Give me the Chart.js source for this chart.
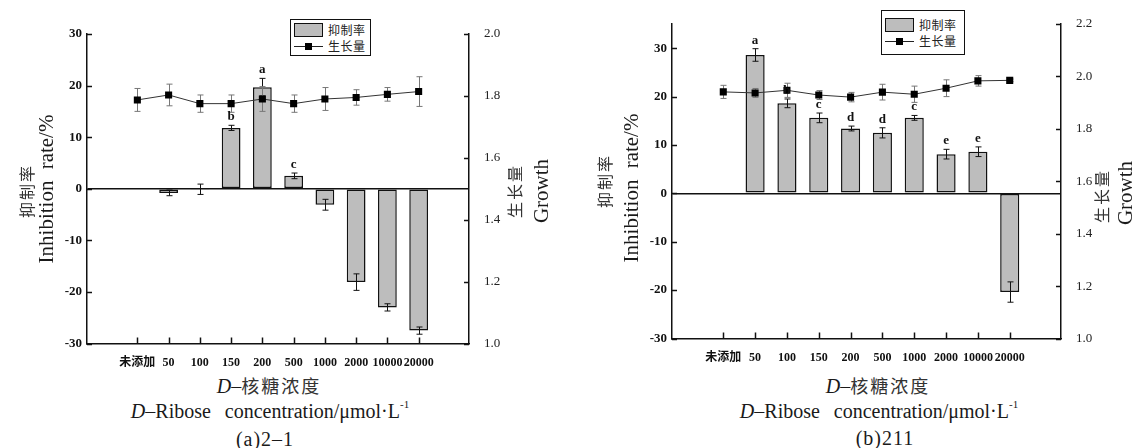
<!DOCTYPE html>
<html lang="zh">
<head>
<meta charset="UTF-8" />
<title>D-核糖浓度对抑制率和生长量的影响</title>
<script src="https://cdn.jsdelivr.net/npm/chart.js"></script>
<style>
  body { margin: 0; background: #fff; color: #1a1a1a; }
  .panel { position: absolute; top: 0; width: 569px; height: 448px; overflow: hidden;
    font-family: "Liberation Serif", "Noto Sans CJK SC", serif; }
  .panel canvas { position: absolute; left: 0; top: 0; }
  .ytitle { position: absolute; white-space: nowrap; line-height: 1;
    transform: translate(-50%, -50%) rotate(-90deg); }
  .cjk { font-family: "Noto Sans CJK SC", sans-serif; font-size: 16px; letter-spacing: 2px; color: #333; }
  .latin { font-size: 21px; word-spacing: 6px; }
  .xtitle { position: absolute; white-space: nowrap; line-height: 1; transform: translate(-50%, -50%); font-size: 20px; }
  .xtitle.en { word-spacing: 9px; }
  .xtitle.tag { letter-spacing: 1px; }
  .xtitle .zh { font-family: "Noto Sans CJK SC", sans-serif; font-size: 18px; letter-spacing: 2px; color: #333; }
  .xtitle sup { font-size: 11px; position: relative; top: -2px; vertical-align: top; }
  .legend { position: absolute; box-sizing: border-box; border: 1.5px solid #111; background: #fff;
    display: flex; flex-direction: column; justify-content: center; padding-left: 3px;
    font-family: "Noto Sans CJK SC", sans-serif; font-size: 12px; letter-spacing: 0.5px; color: #222; }
  .legend .item { display: flex; align-items: center; height: 16px; }
  .legend .key { position: relative; width: 29px; height: 14px; margin-right: 5px; box-sizing: border-box; }
  .legend .key.bar { border: 1.5px solid #111; }
  .legend .key.line::before { content: ""; position: absolute; left: 0; right: 0; top: 7px; border-top: 1px solid #222; }
  .legend .key.line i { position: absolute; left: 11px; top: 4px; width: 7px; height: 7px; background: #000; }
</style>
</head>
<body>
<div class="panel" style="left:0">
  <canvas id="chartA" width="569" height="370"></canvas>
  <div class="legend" id="legendA" style="left:290px;top:19px;width:81px;height:37px"></div>
  <div class="ytitle cjk" style="left:26px;top:191px">抑制率</div>
  <div class="ytitle latin" style="left:46px;top:189px">Inhibition rate/%</div>
  <div class="ytitle cjk" style="left:514px;top:191px">生长量</div>
  <div class="ytitle latin" style="left:541px;top:191px">Growth</div>
  <div class="xtitle" style="left:269px;top:386px"><i>D</i>–<span class="zh">核糖浓度</span></div>
  <div class="xtitle en" style="left:270px;top:411px"><i>D</i>–Ribose concentration/μmol·L<sup>-1</sup></div>
  <div class="xtitle tag" style="left:265px;top:439px">(a)2–1</div>
</div>
<div class="panel" style="left:569px">
  <canvas id="chartB" width="569" height="370"></canvas>
  <div class="legend" id="legendB" style="left:312px;top:10px;width:84px;height:45px"></div>
  <div class="ytitle cjk" style="left:35px;top:181px">抑制率</div>
  <div class="ytitle latin" style="left:62px;top:188px">Inhibition rate/%</div>
  <div class="ytitle cjk" style="left:532px;top:196px">生长量</div>
  <div class="ytitle latin" style="left:556px;top:193px">Growth</div>
  <div class="xtitle" style="left:309px;top:386px"><i>D</i>–<span class="zh">核糖浓度</span></div>
  <div class="xtitle en" style="left:310px;top:411px"><i>D</i>–Ribose concentration/μmol·L<sup>-1</sup></div>
  <div class="xtitle tag" style="left:316px;top:438px">(b)211</div>
</div>

<script>
  const categories = ["未添加", "50", "100", "150", "200", "500", "1000", "2000", "10000", "20000"];

  // (a) 2-1
  const rateA = [null, -0.8, -0.1, 11.8, 19.7, 2.5, -3.1, -18.1, -23.0, -27.5];
  const rateErrA = [0, 0.55, 1.0, 0.5, 1.7, 0.55, 1.05, 1.6, 0.7, 0.7];
  const growthA = [1.787, 1.803, 1.775, 1.775, 1.79, 1.775, 1.79, 1.795, 1.805, 1.814];
  const growthErrA = [0.037, 0.035, 0.028, 0.028, 0.04, 0.028, 0.037, 0.025, 0.022, 0.048];
  const lettersA = ["", "", "", "b", "a", "c", "", "", "", ""];
  const rateTicksA = [-30, -20, -10, 0, 10, 20, 30];
  const growthTicksA = [1.0, 1.2, 1.4, 1.6, 1.8, 2.0];

  // (b) 211
  const rateB = [null, 28.6, 18.6, 15.6, 13.4, 12.5, 15.6, 8.1, 8.6, -20.4];
  const rateErrB = [0, 1.3, 0.9, 1.0, 0.5, 1.05, 0.5, 1.0, 1.0, 2.1];
  const growthB = [1.941, 1.937, 1.947, 1.929, 1.921, 1.94, 1.932, 1.955, 1.983, 1.985];
  const growthErrB = [0.025, 0.017, 0.027, 0.017, 0.018, 0.03, 0.031, 0.032, 0.02, 0.005];
  const lettersB = ["", "a", "b", "c", "d", "d", "c", "e", "e", ""];
  const rateTicksB = [-30, -20, -10, 0, 10, 20, 30];
  const rateMaxB = 35;
  const growthTicksB = [1.0, 1.2, 1.4, 1.6, 1.8, 2.0, 2.2];

  const serif = "'Liberation Serif', 'Noto Sans CJK SC', serif";

  // error bars: line ones go under the markers, bar ones over the bars
  function drawErrors(chart, meta, ds) {
    if (!ds.errors) return;
    const ctx = chart.ctx;
    const scale = chart.scales[meta.yAxisID];
    ctx.save();
    ctx.strokeStyle = ds.errorColor;
    ctx.lineWidth = 1;
    meta.data.forEach((el, i) => {
      const v = ds.data[i].y, e = ds.errors[i];
      if (v == null || !e) return;
      const x = Math.round(el.x) + 0.5;
      const top = scale.getPixelForValue(v + e);
      const bot = scale.getPixelForValue(v - e);
      ctx.beginPath();
      ctx.moveTo(x, top); ctx.lineTo(x, bot);
      ctx.moveTo(x - 3, top); ctx.lineTo(x + 3, top);
      ctx.moveTo(x - 3, bot); ctx.lineTo(x + 3, bot);
      ctx.stroke();
    });
    ctx.restore();
  }

  const errorBars = {
    id: "errorBars",
    beforeDatasetDraw(chart, args) {
      const ds = chart.data.datasets[args.index];
      if (ds.type === "line") drawErrors(chart, args.meta, ds);
    },
    afterDatasetDraw(chart, args) {
      const ds = chart.data.datasets[args.index];
      if (ds.type === "bar") drawErrors(chart, args.meta, ds);
    },
    afterDatasetsDraw(chart) {
      const ctx = chart.ctx;
      chart.data.datasets.forEach((ds, di) => {
        if (!ds.letters) return;
        const meta = chart.getDatasetMeta(di);
        const scale = chart.scales[meta.yAxisID];
        ctx.save();
        ctx.fillStyle = "#111";
        ctx.font = "bold 13px " + serif;
        ctx.textAlign = "center";
        ctx.textBaseline = "bottom";
        meta.data.forEach((el, i) => {
          if (!ds.letters[i]) return;
          const y = scale.getPixelForValue(ds.data[i].y + ds.errors[i]) - 2;
          ctx.fillText(ds.letters[i], el.x, y);
        });
        ctx.restore();
      });
    }
  };

  // tick marks pointing into the plot
  const innerTicks = {
    id: "innerTicks",
    afterDraw(chart) {
      const ctx = chart.ctx;
      ctx.save();
      ctx.strokeStyle = "#111";
      ctx.lineWidth = 1.5;
      Object.values(chart.scales).forEach((scale) => {
        scale.ticks.forEach((t) => {
          const p = Math.round(scale.getPixelForValue(t.value)) + 0.5;
          ctx.beginPath();
          if (scale.axis === "x") {
            ctx.moveTo(p, scale.top); ctx.lineTo(p, scale.top - 6);
          } else if (scale.position === "left") {
            ctx.moveTo(scale.right, p); ctx.lineTo(scale.right + 5, p);
          } else {
            ctx.moveTo(scale.left, p); ctx.lineTo(scale.left - 5, p);
          }
          ctx.stroke();
        });
      });
      ctx.restore();
    }
  };

  function buildLegend(chart, el) {
    chart.data.datasets.forEach((ds) => {
      const row = document.createElement("div");
      row.className = "item";
      const key = document.createElement("span");
      if (ds.type === "bar") {
        key.className = "key bar";
        key.style.background = ds.backgroundColor;
      } else {
        key.className = "key line";
        key.innerHTML = "<i></i>";
      }
      row.appendChild(key);
      row.appendChild(document.createTextNode(ds.label));
      el.appendChild(row);
    });
  }

  function makeChart(id, p) {
    const ctx = document.getElementById(id).getContext("2d");
    return new Chart(ctx, {
      data: {
        datasets: [
          {
            type: "bar",
            label: "抑制率",
            data: p.rates.map((v, i) => ({ x: i, y: v })),
            errors: p.rateErrs,
            letters: p.letters,
            errorColor: "#111",
            yAxisID: "y",
            order: 2,
            backgroundColor: "#bdbdbd",
            borderColor: "#111",
            borderWidth: 1.5,
            borderSkipped: false,
            barPercentage: 0.6,
            categoryPercentage: 1,
          },
          {
            type: "line",
            label: "生长量",
            data: p.growth.map((v, i) => ({ x: i, y: v })),
            errors: p.growthErrs,
            errorColor: "#777",
            yAxisID: "y2",
            order: 1,
            borderColor: "#333",
            borderWidth: 1,
            pointStyle: "rect",
            pointRadius: 5,
            pointBorderWidth: 0,
            pointBackgroundColor: "#000",
            tension: 0,
          },
        ],
      },
      options: {
        responsive: false,
        animation: false,
        layout: { padding: { top: p.top, left: 0, right: 0, bottom: 0 } },
        plugins: { legend: { display: false }, tooltip: { enabled: false } },
        scales: {
          x: {
            type: "linear",
            min: -1,
            max: categories.length,
            afterBuildTicks: (s) => { s.ticks = categories.map((c, i) => ({ value: i })); },
            afterFit: (s) => { s.height = p.xHeight; },
            ticks: {
              callback: (v) => categories[v],
              autoSkip: false,
              maxRotation: 0,
              padding: 4,
              color: "#111",
              font: { family: serif, size: 12, weight: "bold" },
            },
            grid: { display: false },
            border: { color: "#111", width: 1.5 },
          },
          y: {
            position: "left",
            min: p.rateTicks[0],
            max: p.rateMax,
            afterBuildTicks: (s) => { s.ticks = p.rateTicks.map((v) => ({ value: v })); },
            afterFit: (s) => { s.width = p.leftW; },
            ticks: {
              padding: 5,
              color: "#111",
              font: { family: serif, size: 13, weight: "bold" },
            },
            grid: {
              drawTicks: false,
              lineWidth: 1.5,
              color: (c) => (c.tick && c.tick.value === 0 ? "#111" : "transparent"),
            },
            border: { color: "#111", width: 1.5 },
          },
          y2: {
            position: "right",
            min: p.growthTicks[0],
            max: p.growthTicks[p.growthTicks.length - 1],
            afterBuildTicks: (s) => { s.ticks = p.growthTicks.map((v) => ({ value: v })); },
            afterFit: (s) => { s.width = p.rightW; },
            ticks: {
              padding: 7,
              color: "#222",
              callback: (v) => v.toFixed(1),
              font: { family: serif, size: 13 },
            },
            grid: { display: false },
            border: { color: "#111", width: 1.5 },
          },
        },
      },
      plugins: [errorBars, innerTicks],
    });
  }

  const chartA = makeChart("chartA", {
    rates: rateA, rateErrs: rateErrA, growth: growthA, growthErrs: growthErrA, letters: lettersA,
    rateTicks: rateTicksA, rateMax: rateTicksA[rateTicksA.length - 1], growthTicks: growthTicksA,
    top: 34, xHeight: 26.5, leftW: 87, rightW: 100,
  });
  const chartB = makeChart("chartB", {
    rates: rateB, rateErrs: rateErrB, growth: growthB, growthErrs: growthErrB, letters: lettersB,
    rateTicks: rateTicksB, rateMax: rateMaxB, growthTicks: growthTicksB,
    top: 24, xHeight: 31.5, leftW: 103, rightW: 77,
  });

  buildLegend(chartA, document.getElementById("legendA"));
  buildLegend(chartB, document.getElementById("legendB"));
</script>
</body>
</html>
